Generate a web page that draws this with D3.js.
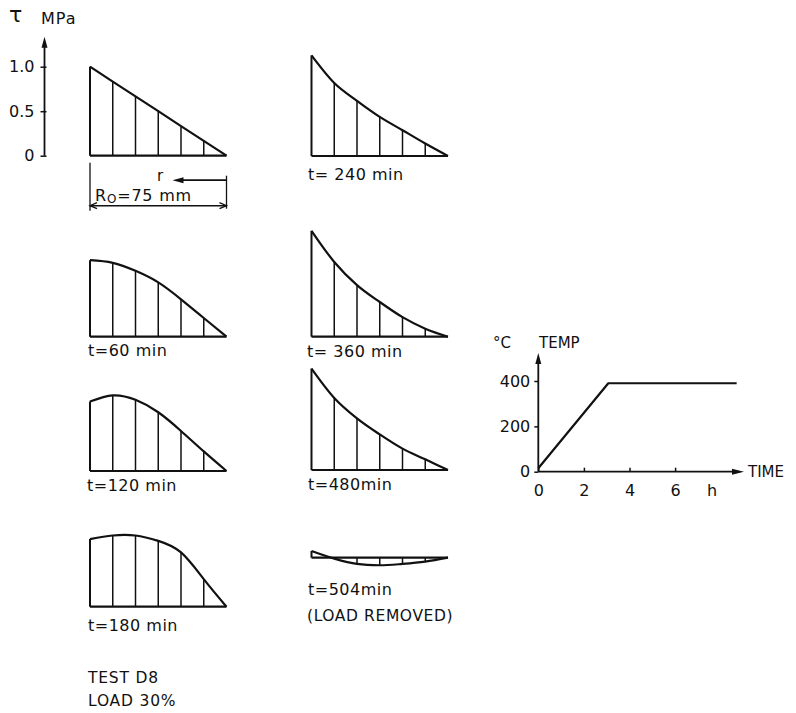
<!DOCTYPE html>
<html>
<head>
<meta charset="utf-8">
<script src="https://cdn.jsdelivr.net/npm/d3@7"></script>
<style>
  html, body { margin: 0; padding: 0; background: #fff; }
  svg { display: block; }
  text { font-family: "DejaVu Sans", sans-serif; fill: #111; }
</style>
</head>
<body>
<svg id="chart" width="796" height="713"></svg>
<script>
// ---------------- DATA ----------------
// shear stress distributions tau (MPa) at 7 equally spaced radial stations (outer -> centre)
const stations = [0, 1, 2, 3, 4, 5, 6];
const tau0   = [1.00, 0.833, 0.667, 0.50, 0.333, 0.167, 0];
const tau60  = [0.86, 0.83, 0.74, 0.61, 0.42, 0.21, 0];
const tau120 = [0.78, 0.85, 0.80, 0.66, 0.45, 0.22, 0];
const tau180 = [0.76, 0.80, 0.80, 0.74, 0.61, 0.31, 0];
const tau240 = [1.13, 0.82, 0.62, 0.44, 0.29, 0.14, 0];
const tau360 = [1.19, 0.84, 0.58, 0.39, 0.22, 0.09, 0];
const tau480 = [1.14, 0.81, 0.58, 0.40, 0.24, 0.12, 0];
const tau504 = [0.075, -0.01, -0.07, -0.085, -0.07, -0.045, 0];

const panelLabels = ["t=60 min", "t=120 min", "t=180 min", "t= 240 min", "t= 360 min", "t=480min", "t=504min"];
const tauTicks = [0, 0.5, 1.0];
const tauTickLabels = ["0", "0.5", "1.0"];

// temperature curve
const tempTime  = [0, 3.07, 8.7];
const tempValue = [15, 390, 390];
const tempYTicks = [0, 200, 400];
const tempXTicks = [0, 2, 4, 6];

// ---------------- SETUP ----------------
const svg = d3.select("#chart");
svg.append("rect").attr("width", 796).attr("height", 713).attr("fill", "#fff");
const INK = "#111";

const x = d3.scaleLinear().domain([0, 6]).range([0, 136.5]);
const y = d3.scaleLinear().domain([0, 1]).range([0, -89]);

function arrowHead(g, tipX, tipY, dir, len, half) {
  let pts;
  if (dir === "up") pts = [[tipX, tipY], [tipX - half, tipY + len], [tipX + half, tipY + len]];
  else if (dir === "right") pts = [[tipX, tipY], [tipX - len, tipY - half], [tipX - len, tipY + half]];
  else pts = [[tipX, tipY], [tipX + len, tipY - half], [tipX + len, tipY + half]];
  g.append("path").attr("d", "M" + pts.map(p => p.join(",")).join("L") + "Z").attr("fill", INK);
}

function panel(vals, x0, y0, curveType) {
  const g = svg.append("g").attr("transform", `translate(${x0},${y0})`);
  g.selectAll("line.v").data(vals).join("line")
    .attr("class", "v")
    .attr("x1", (d, i) => x(stations[i])).attr("x2", (d, i) => x(stations[i]))
    .attr("y1", y(0)).attr("y2", d => y(d))
    .attr("stroke", INK).attr("stroke-width", (d, i) => i === 0 ? 2 : 1.5);
  g.append("line").attr("x1", x(0)).attr("x2", x(6)).attr("y1", y(0)).attr("y2", y(0))
    .attr("stroke", INK).attr("stroke-width", 2.2);
  const line = d3.line().x((d, i) => x(stations[i])).y(d => y(d)).curve(curveType);
  g.append("path").datum(vals).attr("d", line).attr("fill", "none")
    .attr("stroke", INK).attr("stroke-width", 2.2).attr("stroke-linejoin", "round");
  return g;
}

const LX = 90, RX = 311.5;
const smooth = d3.curveMonotoneX;
const dome = d3.curveNatural;

panel(tau0, LX, 155.7, d3.curveLinear);
panel(tau60, LX, 336.7, dome);
panel(tau120, LX, 471, dome);
panel(tau180, LX, 606.7, dome);
panel(tau240, RX, 156, smooth);
panel(tau360, RX, 336.7, smooth);
panel(tau480, RX, 470, smooth);
panel(tau504, RX, 557.7, d3.curveCatmullRom.alpha(0.5));

// panel labels
const labelPos = [[88, 356], [87, 491], [88, 631], [308, 180], [307, 356.5], [308, 490], [308, 595]];
svg.selectAll("text.plab").data(panelLabels).join("text")
  .attr("class", "plab")
  .attr("x", (d, i) => labelPos[i][0]).attr("y", (d, i) => labelPos[i][1])
  .attr("font-size", 16).attr("letter-spacing", 0.5).text(d => d);
svg.append("text").attr("x", 307).attr("y", 621).attr("font-size", 15.5).attr("letter-spacing", 0.6).text("(LOAD REMOVED)");

svg.append("text").attr("x", 88).attr("y", 683).attr("font-size", 15.5).attr("letter-spacing", 0.8).text("TEST D8");
svg.append("text").attr("x", 88).attr("y", 706).attr("font-size", 15.5).attr("letter-spacing", 0.8).text("LOAD 30%");

// ---------------- TAU AXIS ----------------
const axG = svg.append("g").attr("transform", `translate(44.5,155.7)`);
const tauAxis = d3.axisLeft(y).tickValues(tauTicks).tickSize(4).tickPadding(6)
  .tickFormat((d, i) => tauTickLabels[i]);
axG.call(tauAxis);
axG.select(".domain").remove();
axG.selectAll(".tick line").attr("stroke", INK).attr("stroke-width", 1.5).attr("x2", -4).attr("x1", 2);
axG.selectAll(".tick text").attr("font-size", 16).attr("font-family", "DejaVu Sans").attr("fill", INK);
axG.append("line").attr("x1", 0).attr("x2", 0).attr("y1", 0).attr("y2", -112).attr("stroke", INK).attr("stroke-width", 1.8);
arrowHead(axG, 0, -119, "up", 11, 3);
svg.append("text").attr("x", 9).attr("y", 22).attr("font-size", 22).text("τ");
svg.append("text").attr("x", 41).attr("y", 24).attr("font-size", 16).attr("letter-spacing", 1).text("MPa");

// ---------------- R0 annotation ----------------
const ann = svg.append("g").attr("transform", `translate(${LX},155.7)`);
ann.append("line").attr("x1", x(0)).attr("x2", x(0)).attr("y1", 7).attr("y2", 55).attr("stroke", INK).attr("stroke-width", 1.3);
ann.append("line").attr("x1", x(6)).attr("x2", x(6)).attr("y1", 20).attr("y2", 53).attr("stroke", INK).attr("stroke-width", 1.3);
ann.append("line").attr("x1", x(0)).attr("x2", x(6)).attr("y1", 50).attr("y2", 50).attr("stroke", INK).attr("stroke-width", 1.5);
ann.append("path").attr("d", `M${x(0) + 7},${47}L${x(0)},${50}L${x(0) + 7},${53}`).attr("fill", "none").attr("stroke", INK).attr("stroke-width", 1.3);
ann.append("path").attr("d", `M${x(6) - 7},${47}L${x(6)},${50}L${x(6) - 7},${53}`).attr("fill", "none").attr("stroke", INK).attr("stroke-width", 1.3);
// r arrow
ann.append("line").attr("x1", x(6)).attr("x2", x(6) - 46).attr("y1", 24.5).attr("y2", 24.5).attr("stroke", INK).attr("stroke-width", 1.8);
arrowHead(ann, x(6) - 54, 24.5, "left", 11, 3);
svg.append("text").attr("x", 157).attr("y", 181).attr("font-size", 15).text("r");
const rt = svg.append("text").attr("x", 95).attr("y", 201).attr("font-size", 16).attr("letter-spacing", 0.8);
rt.append("tspan").text("R");
rt.append("tspan").attr("font-size", 12).attr("dy", 2).text("O");
rt.append("tspan").attr("dy", -2).text("=75 mm");

// ---------------- TEMPERATURE CHART ----------------
const xT = d3.scaleLinear().domain([0, 9]).range([538.3, 743.5]);
const yT = d3.scaleLinear().domain([0, 400]).range([471.7, 381]);
const tg = svg.append("g");

// y axis
const yAxG = tg.append("g").attr("transform", `translate(${xT(0)},0)`);
yAxG.call(d3.axisLeft(yT).tickValues(tempYTicks).tickSize(4).tickPadding(4));
yAxG.select(".domain").remove();
yAxG.selectAll(".tick line").attr("stroke", INK).attr("stroke-width", 1.5);
yAxG.selectAll(".tick text").attr("font-size", 16).attr("font-family", "DejaVu Sans").attr("fill", INK);
yAxG.append("line").attr("x1", 0).attr("x2", 0).attr("y1", yT(0)).attr("y2", 362).attr("stroke", INK).attr("stroke-width", 1.8);
arrowHead(yAxG, 0, 353, "up", 11, 3);

// x axis
const xAxG = tg.append("g").attr("transform", `translate(0,${yT(0)})`);
xAxG.call(d3.axisBottom(xT).tickValues(tempXTicks).tickSizeInner(-4).tickSizeOuter(0).tickPadding(13));
xAxG.select(".domain").remove();
xAxG.selectAll(".tick line").attr("stroke", INK).attr("stroke-width", 1.5);
xAxG.selectAll(".tick text").attr("font-size", 16).attr("font-family", "DejaVu Sans").attr("fill", INK);
xAxG.append("line").attr("x1", xT(0)).attr("x2", 734).attr("y1", 0).attr("y2", 0).attr("stroke", INK).attr("stroke-width", 1.8);
arrowHead(xAxG, 744, 0, "right", 12, 3);

tg.append("path").datum(tempTime.map((t, i) => [t, tempValue[i]]))
  .attr("d", d3.line().x(d => xT(d[0])).y(d => yT(d[1])))
  .attr("fill", "none").attr("stroke", INK).attr("stroke-width", 2.2).attr("stroke-linejoin", "round");

tg.append("text").attr("x", 493).attr("y", 348).attr("font-size", 15).text("°C");
tg.append("text").attr("x", 539).attr("y", 348).attr("font-size", 15).text("TEMP");
tg.append("text").attr("x", 748).attr("y", 477).attr("font-size", 15).text("TIME");
tg.append("text").attr("x", 707).attr("y", 496).attr("font-size", 16).text("h");
</script>
</body>
</html>
